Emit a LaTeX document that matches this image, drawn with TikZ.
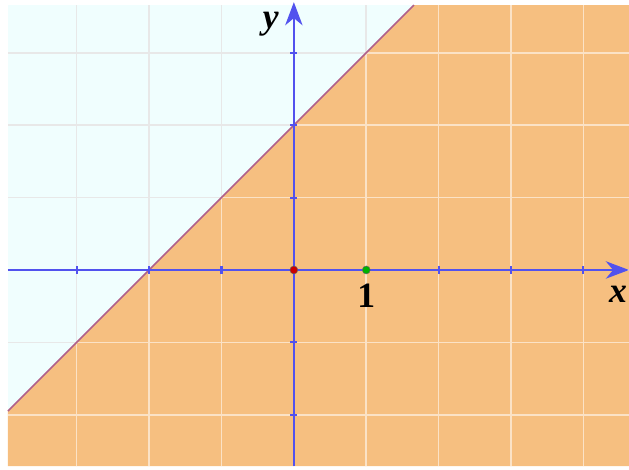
\documentclass[tikz,border=0pt]{standalone}
\usepackage{fontspec}
\setmainfont{Liberation Serif}
\usetikzlibrary{arrows.meta,positioning}
\definecolor{skyfill}{HTML}{F0FEFE}
\definecolor{halffill}{HTML}{F6BF80}
\definecolor{axisblue}{HTML}{5252EE}
\definecolor{edgeline}{HTML}{B0608A}

\begin{document}
\begin{tikzpicture}[
  gridgray/.style={draw=black!9,line width=0.6pt},
  gridlight/.style={draw=white!55!halffill,line width=0.6pt},
  axis/.style={draw=axisblue,line width=0.8pt,-{Stealth[length=3.2mm,width=2.4mm,inset=1mm]}},
  tick/.style={draw=axisblue,line width=0.8pt},
  lbl/.style={font=\bfseries\itshape\fontsize{14}{14}\selectfont,inner sep=1pt},
  dot/.style={circle,fill=#1,draw=black!60,line width=0.2pt,inner sep=0pt,minimum size=1.1mm}
]
\useasboundingbox (-4.06,-2.75) rectangle (4.63,3.73);
\fill[skyfill] (-3.95,-2.71) rectangle (4.63,3.66);
\foreach \x in {-3,...,4} \draw[gridgray] (\x,-2.71)--(\x,3.66);
\foreach \y in {-2,...,3} \draw[gridgray] (-3.95,\y)--(4.63,\y);
% half-plane y <= x+2
\fill[halffill] (-3.95,-1.95)--(1.66,3.66)--(4.63,3.66)--(4.63,-2.71)--(-3.95,-2.71)--cycle;
\begin{scope}
\clip (-3.95,-1.95)--(1.66,3.66)--(4.63,3.66)--(4.63,-2.71)--(-3.95,-2.71)--cycle;
\foreach \x in {-3,...,4} \draw[gridlight] (\x,-2.71)--(\x,3.66);
\foreach \y in {-2,...,3} \draw[gridlight] (-3.95,\y)--(4.63,\y);
\end{scope}
\coordinate (bl) at (-3.95,-1.95);
\coordinate (tr) at (1.66,3.66);
\draw[edgeline,line width=0.6pt] (bl)--(tr);
% axes
\coordinate (xs) at (-3.95,0);
\coordinate (xe) at (4.63,0);
\coordinate (ys) at (0,-2.71);
\coordinate (ye) at (0,3.7);
\draw[axis] (xs)--(xe);
\draw[axis] (ys)--(ye);
\foreach \x in {-3,-2,-1,2,3,4} \draw[tick] (\x,-0.05)--(\x,0.05);
\foreach \y in {-2,-1,1,2,3} \draw[tick] (-0.05,\y)--(0.05,\y);
\node[dot=red!80!black] (O) at (0,0) {};
\node[dot=green!70!black] (one) at (1,0) {};
\node[lbl,font=\bfseries\fontsize{14}{14}\selectfont,below=0.9mm of one] (onelbl) {1};
\node[lbl] (ylbl) at (-0.32,3.39) {y};
\node[lbl] (xlbl) at (4.48,-0.34) {x};
\end{tikzpicture}
\end{document}
